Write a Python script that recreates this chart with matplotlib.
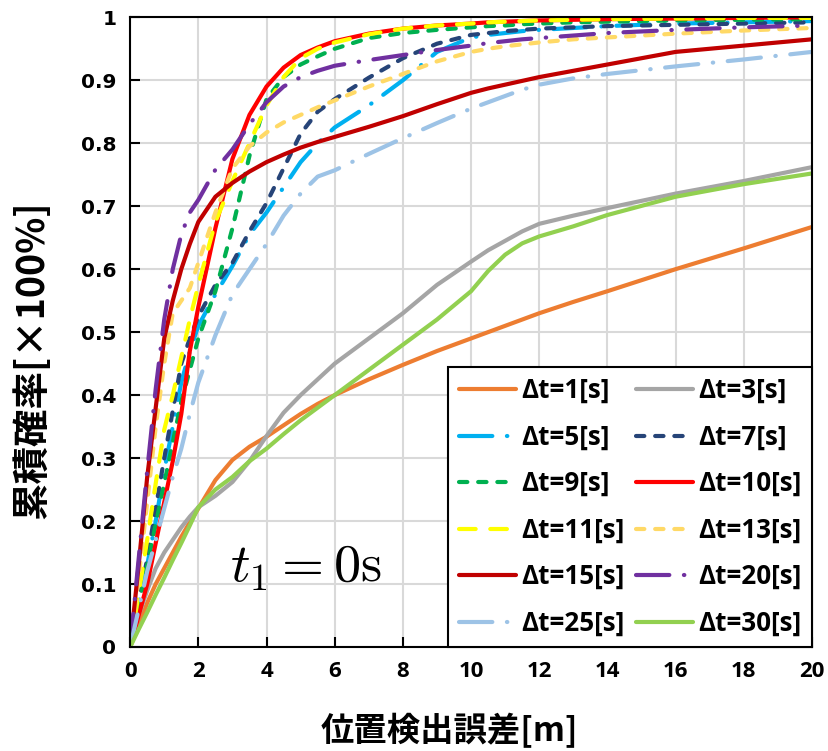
import matplotlib
matplotlib.use("Agg")
import matplotlib.pyplot as plt
from matplotlib.ticker import MultipleLocator, FuncFormatter

# 位置検出誤差 [m]
err_m = [0, 0.25, 0.5, 0.75, 1, 1.25, 1.5, 1.75, 2, 2.5, 3, 3.5, 4, 4.5,
         5, 5.5, 6, 7, 8, 9, 10, 10.5, 11, 11.5, 12, 13, 14, 16, 18, 20]

# 累積確率 (Δt ごと)
cdf_dt1 = [0, .035, .07, .10, .125, .15, .175, .198, .22, .265, .297, .318, .334, .352,
           .37, .386, .40, .425, .448, .47, .49, .50, .51, .52, .53, .548, .565, .60, .633, .667]
cdf_dt3 = [0, .05, .09, .125, .15, .17, .19, .207, .222, .24, .262, .295, .335, .372,
           .40, .425, .45, .49, .53, .575, .612, .63, .645, .66, .672, .685, .697, .72, .74, .762]
cdf_dt5 = [0, .07, .13, .2, .28, .35, .42, .47, .51, .56, .605, .655, .69, .73,
           .77, .80, .825, .86, .90, .945, .968, .972, .975, .978, .98, .983, .986, .99, .992, .994]
cdf_dt7 = [0, .07, .14, .22, .30, .375, .45, .49, .525, .575, .61, .66, .705, .76,
           .815, .85, .87, .904, .935, .958, .972, .975, .978, .98, .982, .984, .986, .988, .99, .992]
cdf_dt9 = [0, .065, .13, .195, .26, .325, .39, .44, .49, .565, .665, .78, .87, .905,
           .925, .938, .95, .967, .975, .98, .984, .986, .987, .989, .99, .992, .993, .995, .996, .997]
cdf_dt10 = [0, .05, .1, .165, .23, .295, .37, .47, .54, .665, .775, .845, .89, .92,
            .94, .952, .962, .974, .982, .987, .99, .992, .993, .994, .995, .996, .997, .998, .999, 1.0]
cdf_dt11 = [0, .085, .17, .26, .345, .40, .46, .52, .575, .675, .74, .80, .86, .905,
            .935, .95, .96, .973, .982, .987, .99, .992, .993, .994, .995, .996, .997, .998, .999, .999]
cdf_dt13 = [0, .11, .23, .35, .45, .53, .55, .57, .61, .69, .76, .795, .817, .833,
            .845, .857, .868, .89, .91, .93, .945, .95, .954, .957, .96, .965, .968, .974, .979, .983]
cdf_dt15 = [0, .13, .27, .38, .49, .55, .60, .64, .675, .715, .737, .755, .77, .782,
            .793, .802, .81, .826, .843, .862, .88, .887, .893, .899, .905, .915, .925, .945, .955, .965]
cdf_dt20 = [0, .14, .28, .41, .52, .6, .655, .69, .71, .758, .79, .83, .865, .89,
            .905, .915, .923, .932, .94, .948, .955, .959, .962, .965, .967, .971, .975, .98, .984, .987]
cdf_dt25 = [0, .06, .12, .17, .22, .27, .315, .37, .42, .495, .56, .60, .64, .685,
            .72, .747, .757, .783, .808, .832, .855, .865, .875, .885, .893, .903, .91, .922, .933, .945]
cdf_dt30 = [0, .028, .055, .083, .11, .138, .165, .193, .222, .25, .27, .295, .315, .338,
            .36, .38, .40, .44, .48, .52, .565, .597, .623, .641, .652, .668, .686, .715, .735, .752]

labels = ["Δt=1[s]", "Δt=3[s]", "Δt=5[s]", "Δt=7[s]", "Δt=9[s]", "Δt=10[s]",
          "Δt=11[s]", "Δt=13[s]", "Δt=15[s]", "Δt=20[s]", "Δt=25[s]", "Δt=30[s]"]
series = [cdf_dt1, cdf_dt3, cdf_dt5, cdf_dt7, cdf_dt9, cdf_dt10,
          cdf_dt11, cdf_dt13, cdf_dt15, cdf_dt20, cdf_dt25, cdf_dt30]

# 色と線種 (dashes は線幅単位)
styles = [
    ("#ED7D31", None),
    ("#A5A5A5", None),
    ("#00B0F0", (8, 3.5, 0.1, 3.5)),
    ("#264478", (2.0, 2.6)),
    ("#00B050", (2.0, 2.6)),
    ("#FF0000", None),
    ("#FFFF00", (4, 3.5)),
    ("#FFD966", (2.0, 2.6)),
    ("#C00000", None),
    ("#7030A0", (8, 3.5, 0.1, 3.5)),
    ("#9DC3E6", (8, 3.5, 0.1, 3.5)),
    ("#92D050", None),
]

plt.rcParams["mathtext.fontset"] = "cm"

fig = plt.figure(figsize=(8.29, 7.51), dpi=100)
ax = fig.add_axes([0.157, 0.1385, 0.8225, 0.8385])

handles = []
for y, lab, (col, dash) in zip(series, labels, styles):
    if dash is None:
        ln, = ax.plot(err_m, y, color=col, lw=3.0, label=lab,
                      solid_capstyle="round", solid_joinstyle="round")
    else:
        ln, = ax.plot(err_m, y, color=col, lw=3.0, label=lab,
                      dashes=dash, dash_capstyle="round")
    handles.append(ln)

ax.set_xlim(0, 20)
ax.set_ylim(0, 1)
ax.xaxis.set_major_locator(MultipleLocator(2))
ax.yaxis.set_major_locator(MultipleLocator(0.1))
ax.yaxis.set_major_formatter(FuncFormatter(
    lambda v, p: f"{int(round(v))}" if round(v, 3) in (0, 1) else f"{v:.1f}"))
ax.grid(True, color="#D9D9D9", lw=1.5)
ax.set_axisbelow(True)

for s in ax.spines.values():
    s.set_color("black")
    s.set_linewidth(1.5)

ax.tick_params(direction="in", length=7, width=1.5, pad=10)
for t in ax.get_xticklabels():
    t.set_fontfamily("Open Sans")
    t.set_fontweight("bold")
    t.set_fontsize(16)
for t in ax.get_yticklabels():
    t.set_fontfamily("DejaVu Sans")
    t.set_fontweight("bold")
    t.set_fontsize(14.5)

ax.set_xlabel("位置検出誤差[m]", fontfamily="Noto Sans CJK JP", fontweight="bold",
              fontsize=24, va="center")
ax.xaxis.set_label_coords(0.468, -0.133)
ax.set_ylabel("累積確率[×100%]", fontfamily="Noto Sans CJK JP", fontweight="bold",
              fontsize=27, va="center")
ax.yaxis.set_label_coords(-0.1437, 0.456)

ax.text(5.16, 0.103, r"$t_1 = 0\mathrm{s}$", fontsize=39, ha="center", va="baseline")

# 2列の凡例を行順に並べる
order = [0, 2, 4, 6, 8, 10, 1, 3, 5, 7, 9, 11]
leg = ax.legend([handles[i] for i in order], [labels[i] for i in order],
                ncol=2, loc="lower right", bbox_to_anchor=(1, 0), borderaxespad=0,
                prop={"family": "Open Sans", "weight": "bold", "size": 18.7},
                handlelength=2.2, handletextpad=0.2, labelspacing=0.75,
                columnspacing=0.45, fancybox=False, framealpha=1, edgecolor="black",
                borderpad=0.4)
leg.get_frame().set_linewidth(1.5)

fig.savefig("out.png", dpi=100)
